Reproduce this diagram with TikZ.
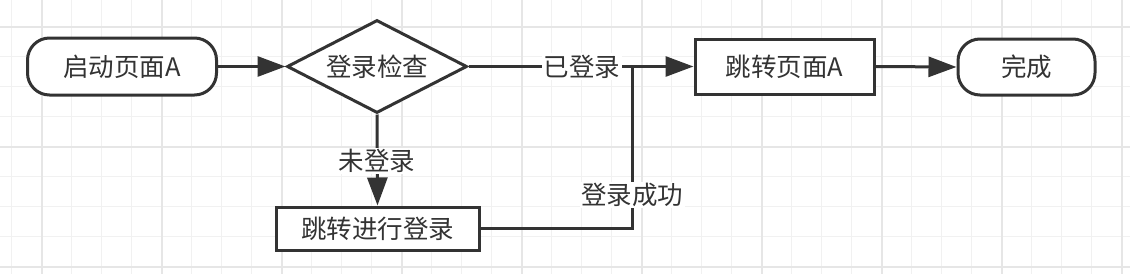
\documentclass[tikz,border=0pt]{standalone}
\usepackage{fontspec}
\newfontfamily\cjk{Noto Sans CJK SC}
\usetikzlibrary{shapes.geometric,arrows.meta}
\definecolor{ink}{HTML}{333333}
\definecolor{gridminor}{HTML}{F1F1F1}
\definecolor{gridmajor}{HTML}{E6E6E6}
\tikzset{
  txt/.style={font=\cjk\fontsize{25.5}{30}\selectfont, text=ink},
  term/.style={txt, draw=ink, line width=3pt, fill=white, rounded corners=22pt, inner sep=0pt},
  procbox/.style={txt, draw=ink, line width=3pt, fill=white, inner sep=0pt},
  decision/.style={txt, diamond, draw=ink, line width=3pt, fill=white, inner sep=0pt, aspect=1.9},
  conn/.style={draw=ink, line width=3pt},
  arr/.style={conn, -{Triangle[length=28pt,width=20pt]}},
  lbl/.style={txt, fill=white, inner sep=1.5pt}
}
\begin{document}
\begin{tikzpicture}[x=1pt,y=-1pt]
\useasboundingbox (0,0) rectangle (1130,274);
\fill[white] (0,0) rectangle (1130,274);
% grid
\foreach \k in {0,...,37} {
  \draw[gridminor, line width=1.2pt] ({11.7+30*\k},0) -- ({11.7+30*\k},274);
}
\foreach \k in {0,...,8} {
  \draw[gridminor, line width=1.2pt] (0,{26.7+30*\k}) -- (1130,{26.7+30*\k});
}
\foreach \k in {0,...,9} {
  \draw[gridmajor, line width=1.6pt] ({41.7+120*\k},0) -- ({41.7+120*\k},274);
}
\foreach \k in {0,...,2} {
  \draw[gridmajor, line width=1.6pt] (0,{26.7+120*\k}) -- (1130,{26.7+120*\k});
}
% nodes
\node[term, minimum width=189pt, minimum height=57pt] (start) at (122,66.5) {启动页面A};
\node[decision, minimum width=180pt, minimum height=93pt] (check) at (377,66.5) {登录检查};
\node[procbox, minimum width=203pt, minimum height=43pt] (login) at (377.5,228.5) {跳转进行登录};
\node[procbox, minimum width=179pt, minimum height=55pt] (jump) at (784.5,66.5) {跳转页面A};
\node[term, minimum width=137pt, minimum height=56pt] (done) at (1026.5,67) {完成};
\coordinate (junc) at (632,66.5);
\coordinate (corner) at (632,228.5);
% connectors
\draw[arr] (start.east) -- (check.west);
\draw[conn] (check.east) -- (junc);
\draw[arr] (junc) -- (jump.west);
\draw[conn] (login.east) -- (corner) -- (junc);
\draw[arr] (check.south) -- (login.north);
\draw[arr] (jump.east) -- (done.west);
% labels
\node[lbl] (l1) at (582,66.5) {已登录};
\node[lbl] (l2) at (632,195) {登录成功};
\node[lbl] (l3) at (377,161) {未登录};
\end{tikzpicture}
\end{document}
